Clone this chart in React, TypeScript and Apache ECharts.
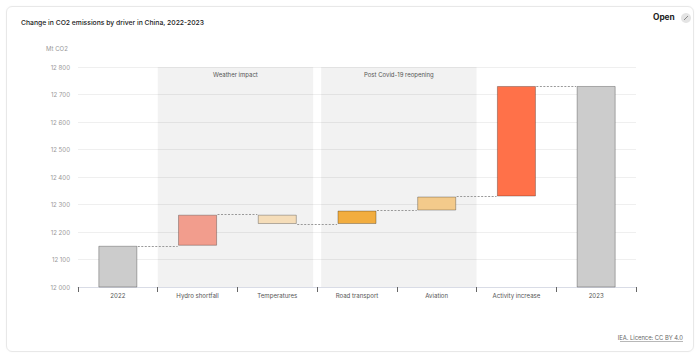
import React, { useEffect, useRef } from "react";
import * as echarts from "echarts";

const categories = ["2022", "Hydro shortfall", "Temperatures", "Road transport", "Aviation", "Activity increase", "2023"];
const startTotal = 12150;
const changes = [113, -34, 49, 51, 402];
const endTotal = 12731;
const barColors = ["#cccccc", "#f29d8d", "#f5ddb9", "#f2ad3f", "#f3ca8b", "#ff7149", "#cccccc"];
const yTicks = [12000, 12100, 12200, 12300, 12400, 12500, 12600, 12700, 12800];
const regions = [
  { name: "Weather impact", from: 1, to: 2.95 },
  { name: "Post Covid-19 reopening", from: 3.05, to: 5 },
];

export default function App() {
  const ref = useRef<HTMLDivElement>(null);
  useEffect(() => {
    if (!ref.current) return;
    const chart = echarts.init(ref.current, undefined, { renderer: "svg" });

    const base: any[] = [];
    const vis: number[] = [];
    const levels: number[] = [];
    base.push(0);
    vis.push(startTotal);
    let cur = startTotal;
    levels.push(cur);
    changes.forEach((c) => {
      const next = cur + c;
      base.push(Math.min(cur, next));
      vis.push(Math.abs(c));
      cur = next;
      levels.push(cur);
    });
    base.push(0);
    vis.push(endTotal);

    const connectors = levels.map((lv, i) => [
      { coord: [i + 0.75, lv] },
      { coord: [i + 1.25, lv] },
    ]);

    const font = "Inter, 'Open Sans', sans-serif";

    chart.setOption({
      animation: false,
      textStyle: { fontFamily: font },
      title: {
        text: "Change in CO2 emissions by driver in China, 2022-2023",
        left: 16,
        top: 14,
        textStyle: { fontSize: 6.8, fontWeight: 500, color: "#222", fontFamily: font },
      },
      grid: { left: 78, right: 64, top: 67, bottom: 68 },
      xAxis: [
        {
          type: "category",
          data: categories,
          axisLine: { lineStyle: { color: "#d9dce6" } },
          axisTick: { show: true, length: 5, lineStyle: { color: "#666" } },
          axisLabel: { fontSize: 6.1, color: "#555", margin: 5, fontFamily: font },
          splitLine: { show: false },
        },
        { type: "value", min: 0, max: 7, show: false },
      ],
      yAxis: {
        type: "value",
        min: yTicks[0],
        max: yTicks[yTicks.length - 1],
        interval: 100,
        axisLine: { show: false },
        axisTick: { show: false },
        axisLabel: {
          fontSize: 6.1,
          color: "#999",
          margin: 8,
          fontFamily: font,
          formatter: (v: number) => String(v).replace(/\B(?=(\d{3})+(?!\d))/g, " "),
        },
        splitLine: { lineStyle: { color: "#efefef" } },
      },
      series: [
        {
          type: "line",
          xAxisIndex: 1,
          data: [],
          silent: true,
          z: 1,
          markArea: {
            silent: true,
            itemStyle: { color: "rgba(0,0,0,0.052)" },
            label: {
              show: true,
              position: "insideTop",
              distance: 4,
              fontSize: 6,
              color: "#555",
              fontFamily: font,
            },
            data: regions.map((r) => [
              { name: r.name, coord: [r.from, yTicks[yTicks.length - 1]] },
              { coord: [r.to, yTicks[0]] },
            ]),
          },
          markLine: {
            silent: true,
            symbol: "none",
            label: { show: false },
            lineStyle: { type: [2, 1.5], color: "#999", width: 1 },
            data: connectors,
          },
        },
        {
          type: "bar",
          stack: "w",
          barWidth: "49%",
          data: base,
          itemStyle: { color: "transparent", borderWidth: 0 },
          silent: true,
          z: 2,
        },
        {
          type: "bar",
          stack: "w",
          barWidth: "49%",
          data: vis.map((v, i) => ({
            value: v,
            itemStyle: { color: barColors[i], borderColor: "rgba(0,0,0,0.28)", borderWidth: 1 },
          })),
          z: 3,
        },
      ],
      graphic: [
        {
          type: "text",
          left: 46,
          top: 45,
          style: { text: "Mt CO2", fontSize: 6, fill: "#999", fontFamily: font },
        },
        {
          type: "text",
          left: 653,
          top: 13,
          style: { text: "Open", fontSize: 8.3, fontWeight: "bold", fill: "#222", fontFamily: font },
        },
        {
          type: "circle",
          shape: { cx: 686, cy: 18, r: 5 },
          style: { fill: "#e4e4e4" },
        },
        {
          type: "line",
          shape: { x1: 684, y1: 20, x2: 688, y2: 16 },
          style: { stroke: "#888", lineWidth: 1 },
        },
        {
          type: "text",
          right: 17,
          top: 334,
          style: { text: "IEA. Licence: CC BY 4.0", fontSize: 5.8, fill: "#666", fontFamily: font },
        },
        {
          type: "line",
          shape: { x1: 620, y1: 341.5, x2: 683, y2: 341.5 },
          style: { stroke: "#888", lineWidth: 0.6 },
        },
      ],
    });
    return () => chart.dispose();
  }, []);

  return (
    <div style={{ position: "fixed", left: 0, top: 0, width: 700, height: 355, background: "#fff" }}>
      <div
        style={{
          position: "absolute",
          left: 6,
          top: 6,
          width: 686,
          height: 344,
          border: "1px solid #e8e8e8",
          borderRadius: 6,
          boxShadow: "0 0 2px rgba(0,0,0,0.04)",
        }}
      />
      <div ref={ref} style={{ position: "absolute", left: 0, top: 0, width: 700, height: 355 }} />
    </div>
  );
}
